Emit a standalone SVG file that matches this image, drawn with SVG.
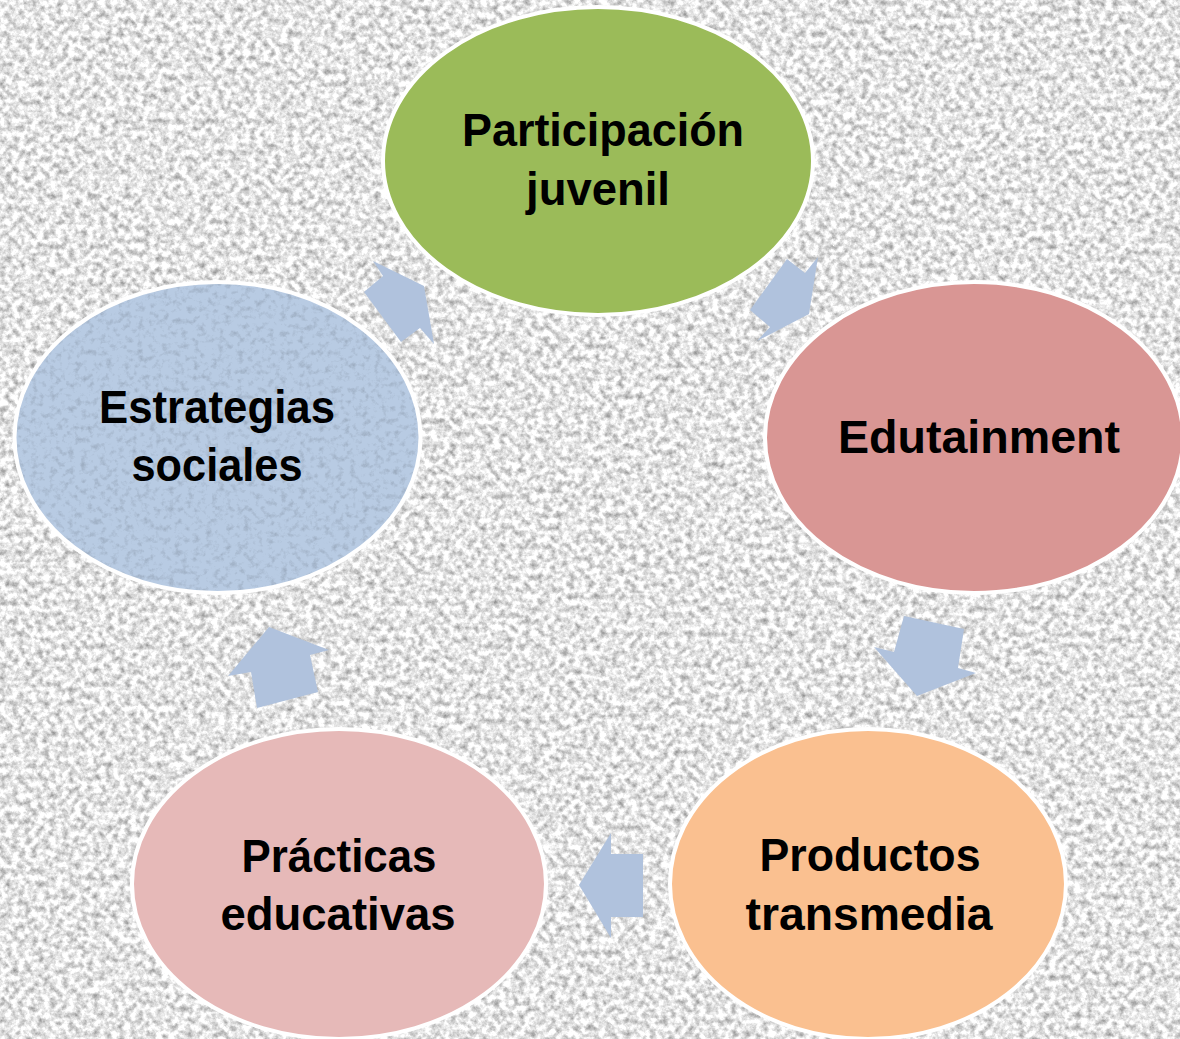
<svg xmlns="http://www.w3.org/2000/svg" width="1180" height="1039" viewBox="0 0 1180 1039">
<defs>
<style>
.node{stroke:#ffffff;stroke-width:4}
.lbl{font-family:"Liberation Sans",Arial,sans-serif;font-weight:bold;font-size:46px;fill:#000000;text-anchor:middle}
.arr{fill:#B0C2DD;stroke:none}
</style>
<filter id="bg" x="0" y="0" width="100%" height="100%" color-interpolation-filters="sRGB">
<feTurbulence type="fractalNoise" baseFrequency="0.16" numOctaves="4" seed="7" result="n"/>
<feColorMatrix in="n" type="matrix" values="0.75 0 0 0 0.52  0.75 0 0 0 0.52  0.75 0 0 0 0.52  0 0 0 0 1"/>
</filter>
<filter id="grain" x="0" y="0" width="100%" height="100%" color-interpolation-filters="sRGB">
<feTurbulence type="fractalNoise" baseFrequency="0.16" numOctaves="4" seed="11" result="n"/>
<feColorMatrix in="n" type="matrix" values="0.35 0 0 0 0.82  0.35 0 0 0 0.82  0.35 0 0 0 0.82  0 0 0 0 1" result="g"/>
<feBlend in="SourceGraphic" in2="g" mode="multiply" result="m"/>
<feComposite in="m" in2="SourceAlpha" operator="in"/>
</filter>
</defs>
<rect x="0" y="0" width="1180" height="1039" fill="#e2e2e2" filter="url(#bg)"/>

<g id="connectors">
<polygon id="a1" class="arr" points="373,261 383,276 364,292 401,342 420,328 434,344 424,286"/>
<polygon id="a2" class="arr" points="787,259 805,273 818,257 809,314 757,341 770,327 750,310"/>
<polygon id="a3" class="arr" points="904,616 964,629 958,668 976,673 917,696 874,647 894,652"/>
<polygon id="a4" class="arr" points="611,833 611,854 643,854 643,917 611,917 611,938 579,885"/>
<polygon id="a5" class="arr" points="269,627 329,650 310,655 318,692 257,708 251,672 228,676"/>
</g>

<g id="node-participacion">
<ellipse class="node" cx="598" cy="161" rx="215" ry="154" fill="#9BBB59"/>
<text class="lbl" x="603" y="146" textLength="282" lengthAdjust="spacingAndGlyphs">Participación</text>
<text class="lbl" x="598" y="205" textLength="144" lengthAdjust="spacingAndGlyphs">juvenil</text>
</g>

<g id="node-edutainment">
<ellipse class="node" cx="974" cy="437.5" rx="209" ry="155.5" fill="#D99694"/>
<text class="lbl" x="979" y="453" textLength="282" lengthAdjust="spacingAndGlyphs">Edutainment</text>
</g>

<g id="node-productos">
<ellipse class="node" cx="868" cy="884" rx="198" ry="155" fill="#FAC090"/>
<text class="lbl" x="870" y="871" textLength="221" lengthAdjust="spacingAndGlyphs">Productos</text>
<text class="lbl" x="869" y="930" textLength="247" lengthAdjust="spacingAndGlyphs">transmedia</text>
</g>

<g id="node-practicas">
<ellipse class="node" cx="339" cy="884" rx="207" ry="155" fill="#E6B9B8"/>
<text class="lbl" x="339" y="872" textLength="195" lengthAdjust="spacingAndGlyphs">Prácticas</text>
<text class="lbl" x="338" y="930" textLength="235" lengthAdjust="spacingAndGlyphs">educativas</text>
</g>

<g id="node-estrategias">
<ellipse cx="217.5" cy="437.5" rx="203" ry="155.5" fill="#B8CBE3" filter="url(#grain)"/>
<ellipse class="node" cx="217.5" cy="437.5" rx="203" ry="155.5" fill="none"/>
<text class="lbl" x="217" y="423" textLength="236" lengthAdjust="spacingAndGlyphs">Estrategias</text>
<text class="lbl" x="217" y="481" textLength="171" lengthAdjust="spacingAndGlyphs">sociales</text>
</g>
</svg>
